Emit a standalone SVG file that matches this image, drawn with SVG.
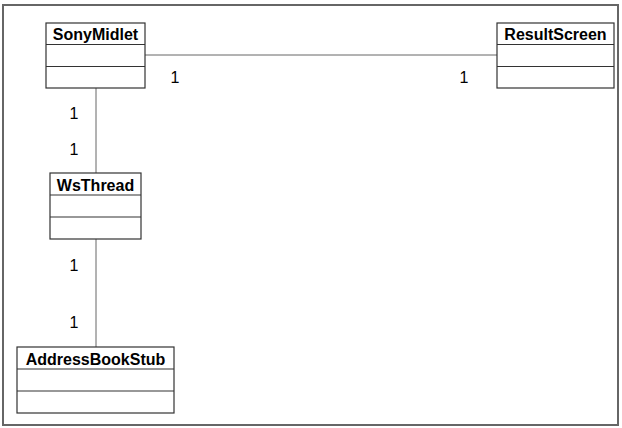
<svg xmlns="http://www.w3.org/2000/svg" width="622" height="428" viewBox="0 0 622 428">
<style>
.box{fill:#fff;stroke:#333;stroke-width:1.2}
.div{stroke:#333;stroke-width:1.2}
.title{font-family:"Liberation Sans",Arial,Helvetica,sans-serif;font-weight:bold;font-size:16px;fill:#000;text-anchor:middle}
.lbl{font-family:"Liberation Sans",Arial,Helvetica,sans-serif;font-size:16px;fill:#000;text-anchor:middle}
.conn{stroke:#666;stroke-width:1;fill:none}
</style>
<rect width="622" height="428" fill="#fff"/>
<rect x="3" y="5" width="615" height="420" fill="none" stroke="#666" stroke-width="2"/>
<g id="connectors">
<line class="conn" x1="145" y1="55" x2="497" y2="55"/>
<line class="conn" x1="96" y1="88" x2="96" y2="173"/>
<line class="conn" x1="96" y1="239" x2="96" y2="347"/>
<text class="lbl" x="175" y="83">1</text>
<text class="lbl" x="464" y="83">1</text>
<text class="lbl" x="74" y="119">1</text>
<text class="lbl" x="74" y="155">1</text>
<text class="lbl" x="74" y="271">1</text>
<text class="lbl" x="74" y="328">1</text>
</g>
<g id="SonyMidlet">
<rect class="box" x="46" y="23" width="99" height="65"/>
<line class="div" x1="46" y1="44.5" x2="145" y2="44.5"/>
<line class="div" x1="46" y1="66.5" x2="145" y2="66.5"/>
<text class="title" x="95.5" y="40">SonyMidlet</text>
</g>
<g id="ResultScreen">
<rect class="box" x="497" y="23" width="117" height="65"/>
<line class="div" x1="497" y1="44.5" x2="614" y2="44.5"/>
<line class="div" x1="497" y1="66.5" x2="614" y2="66.5"/>
<text class="title" x="555.5" y="40">ResultScreen</text>
</g>
<g id="WsThread">
<rect class="box" x="50" y="173" width="91" height="66"/>
<line class="div" x1="50" y1="195" x2="141" y2="195"/>
<line class="div" x1="50" y1="217" x2="141" y2="217"/>
<text class="title" x="95.5" y="190.5">WsThread</text>
</g>
<g id="AddressBookStub">
<rect class="box" x="17" y="347" width="157" height="66"/>
<line class="div" x1="17" y1="369" x2="174" y2="369"/>
<line class="div" x1="17" y1="391" x2="174" y2="391"/>
<text class="title" x="95.5" y="364.5">AddressBookStub</text>
</g>
</svg>
